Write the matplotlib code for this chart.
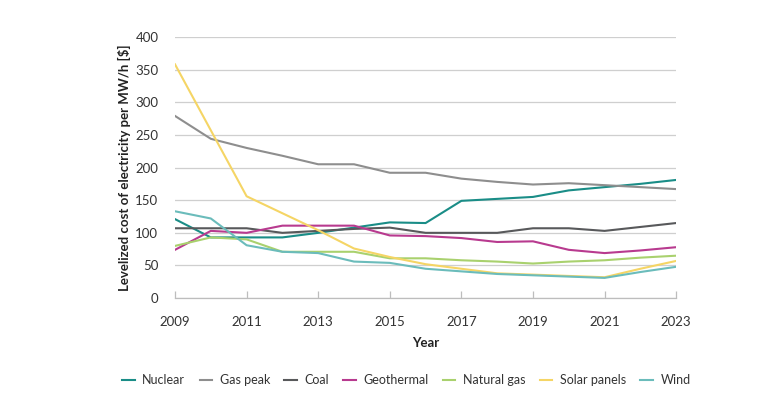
#!/usr/bin/env python

"""
    plot.py:
        - Levelized cost of electricity by source, 2009-2023
"""

import matplotlib
matplotlib.use("Agg")
import matplotlib.pyplot as plt

plt.rcParams["font.family"] = ["Lato", "DejaVu Sans"]

################################################################################
# Data
################################################################################
years = list(range(2009, 2024))

nuclear     = [121, 93, 93, 93, 100, 108, 116, 115, 149, 152, 155, 165, 170, 175, 181]
gas_peak    = [279, 244, 230, 218, 205, 205, 192, 192, 183, 178, 174, 176, 173, 170, 167]
coal        = [107, 107, 107, 100, 103, 106, 108, 100, 100, 100, 107, 107, 103, 109, 115]
geothermal  = [74, 103, 100, 111, 111, 111, 96, 95, 92, 86, 87, 74, 69, 73, 78]
natural_gas = [80, 93, 90, 71, 71, 71, 61, 61, 58, 56, 53, 56, 58, 62, 65]
solar       = [358, 257, 156, 130, 104, 76, 63, 52, 45, 38, 36, 34, 32, 45, 57]
wind        = [133, 122, 81, 71, 69, 56, 54, 45, 41, 37, 35, 33, 31, 40, 48]

series = [
    ("Nuclear",      nuclear,     "#1a8d87"),
    ("Gas peak",     gas_peak,    "#8e8e8e"),
    ("Coal",         coal,        "#58595b"),
    ("Geothermal",   geothermal,  "#b83a8f"),
    ("Natural gas",  natural_gas, "#a9d16e"),
    ("Solar panels", solar,       "#f5d565"),
    ("Wind",         wind,        "#6bbcbb"),
]

x_ticks = list(range(2009, 2024, 2))
y_ticks = list(range(0, 401, 50))

################################################################################
# FIGURE
################################################################################
fig = plt.figure(figsize=(7.71, 3.97), dpi=100)
ax = fig.add_axes([0.227, 0.249, 0.650, 0.658])

for label, vals, col in series:
    ax.plot(years, vals, color=col, linewidth=1.5, label=label, zorder=3)

################################################################################
# Axis formating
################################################################################
ax.set_xlim(2009, 2023)
ax.set_ylim(0, 400)
ax.set_xticks(x_ticks)
ax.set_yticks(y_ticks)

ax.yaxis.grid(True, color="#cfcfcf", linewidth=0.9, zorder=0)
for s in ["top", "right", "left"]:
    ax.spines[s].set_visible(False)
ax.spines["bottom"].set_color("#bdbdbd")
ax.spines["bottom"].set_linewidth(0.9)

ax.tick_params(axis="x", direction="in", length=5, color="#bdbdbd", width=0.9,
               labelsize=9.5, labelcolor="#333333", pad=13)
ax.tick_params(axis="y", length=0, labelsize=9.5, labelcolor="#333333", pad=12)

ax.set_xlabel("Year", fontsize=9.5, fontweight="bold", color="#222222", labelpad=6)
ax.set_ylabel("Levelized cost of electricity per MW/h [$]", fontsize=9.5,
              fontweight="bold", color="#222222", labelpad=3)

################################################################################
# Legend
################################################################################
fig.legend(loc="center", bbox_to_anchor=(0.527, 0.043), ncol=7, frameon=False,
           fontsize=9, handlelength=1.0, handletextpad=0.6, columnspacing=1.15,
           labelcolor="#333333")

plt.savefig("out.png", dpi=100)
plt.close()
